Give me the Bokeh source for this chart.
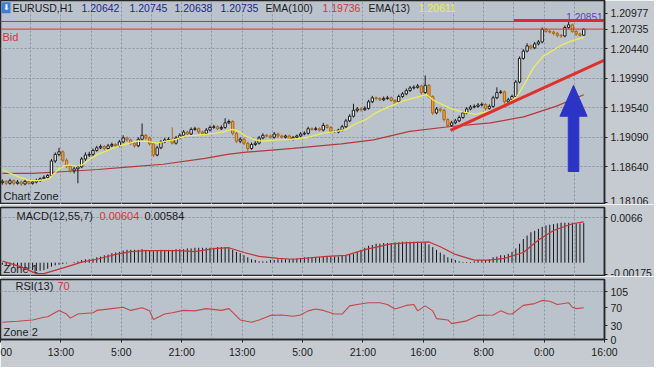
from bokeh.plotting import figure
from bokeh.layouts import column
from bokeh.models import Range1d, FixedTicker, ColumnDataSource, Label, Span
from bokeh.embed import file_html
from bokeh.resources import INLINE

# ---------------- data ----------------
bars = list(range(155))
opens = [1.1840, 1.1842, 1.1839, 1.1843, 1.1839, 1.1841, 1.1838, 1.1842, 1.1839, 1.1841,
         1.1843, 1.1846, 1.1848, 1.1851, 1.1873, 1.1883, 1.1887, 1.1874, 1.1865, 1.1858,
         1.1861, 1.1864, 1.1876, 1.1882, 1.1883, 1.1889, 1.1893, 1.1895, 1.1892, 1.1896,
         1.1898, 1.1896, 1.1902, 1.1908, 1.1905, 1.1900, 1.1896, 1.1906, 1.1912, 1.1908,
         1.1899, 1.1882, 1.1893, 1.1902, 1.1905, 1.1906, 1.1900, 1.1908, 1.1912, 1.1917,
         1.1914, 1.1921, 1.1922, 1.1917, 1.1915, 1.1920, 1.1924, 1.1925, 1.1922, 1.1924,
         1.1931, 1.1933, 1.1915, 1.1903, 1.1906, 1.1900, 1.1892, 1.1898, 1.1900, 1.1908,
         1.1912, 1.1911, 1.1909, 1.1914, 1.1911, 1.1909, 1.1911, 1.1906, 1.1909, 1.1911,
         1.1914, 1.1915, 1.1922, 1.1921, 1.1922, 1.1920, 1.1927, 1.1924, 1.1918, 1.1917,
         1.1920, 1.1925, 1.1934, 1.1941, 1.1950, 1.1952, 1.1951, 1.1953, 1.1963, 1.1969,
         1.1968, 1.1966, 1.1968, 1.1969, 1.1965, 1.1963, 1.1971, 1.1975, 1.1980, 1.1984,
         1.1985, 1.1987, 1.1977, 1.1988, 1.1971, 1.1946, 1.1952, 1.1950, 1.1936, 1.1927,
         1.1931, 1.1934, 1.1939, 1.1946, 1.1952, 1.1955, 1.1956, 1.1958, 1.1959, 1.1953,
         1.1956, 1.1969, 1.1977, 1.1978, 1.1963, 1.1966, 1.1971, 1.1993, 1.2029, 1.2040,
         1.2048, 1.2045, 1.2051, 1.2054, 1.2073, 1.2070, 1.2069, 1.2067, 1.2064, 1.2063,
         1.2076, 1.2080, 1.2070, 1.2066, 1.20642]
highs = [1.1845, 1.1844, 1.1846, 1.1845, 1.1844, 1.1843, 1.1845, 1.1844, 1.1843, 1.1846,
         1.1848, 1.1851, 1.1853, 1.1876, 1.1886, 1.1893, 1.1889, 1.1877, 1.1867, 1.1864,
         1.1867, 1.1879, 1.1886, 1.1887, 1.1892, 1.1896, 1.1898, 1.1897, 1.1899, 1.1901,
         1.1900, 1.1905, 1.1912, 1.1910, 1.1907, 1.1902, 1.1909, 1.1930, 1.1914, 1.1910,
         1.1901, 1.1896, 1.1905, 1.1908, 1.1909, 1.1924, 1.1911, 1.1915, 1.1920, 1.1919,
         1.1924, 1.1925, 1.1924, 1.1919, 1.1923, 1.1927, 1.1928, 1.1927, 1.1927, 1.1938,
         1.1936, 1.1935, 1.1917, 1.1909, 1.1908, 1.1902, 1.1901, 1.1903, 1.1911, 1.1915,
         1.1914, 1.1913, 1.1917, 1.1916, 1.1913, 1.1913, 1.1913, 1.1911, 1.1913, 1.1917,
         1.1918, 1.1925, 1.1924, 1.1925, 1.1924, 1.1931, 1.1929, 1.1926, 1.1920, 1.1922,
         1.1928, 1.1937, 1.1944, 1.1960, 1.1955, 1.1954, 1.1956, 1.1966, 1.1972, 1.1971,
         1.1970, 1.1971, 1.1972, 1.1971, 1.1967, 1.1974, 1.1978, 1.1983, 1.1987, 1.1988,
         1.1990, 1.1989, 1.2003, 1.1990, 1.1973, 1.1955, 1.1954, 1.1952, 1.1938, 1.1934,
         1.1937, 1.1942, 1.1949, 1.1955, 1.1958, 1.1959, 1.1961, 1.1962, 1.1961, 1.1959,
         1.1972, 1.1985, 1.1981, 1.1980, 1.1969, 1.1974, 1.1996, 1.2032, 1.2043, 1.2052,
         1.2050, 1.2054, 1.2057, 1.2076, 1.2075, 1.2073, 1.2071, 1.2069, 1.2066, 1.2079,
         1.20851, 1.2082, 1.2072, 1.2068, 1.20745]
lows = [1.1837, 1.1836, 1.1837, 1.1836, 1.1837, 1.1835, 1.1836, 1.1837, 1.1837, 1.1839,
        1.1841, 1.1844, 1.1846, 1.1849, 1.1870, 1.1880, 1.1871, 1.1862, 1.1855, 1.1854,
        1.1839, 1.1862, 1.1873, 1.1879, 1.1880, 1.1887, 1.1891, 1.1889, 1.1890, 1.1894,
        1.1893, 1.1894, 1.1900, 1.1902, 1.1897, 1.1893, 1.1894, 1.1904, 1.1905, 1.1896,
        1.1879, 1.1880, 1.1891, 1.1900, 1.1903, 1.1898, 1.1898, 1.1906, 1.1910, 1.1911,
        1.1912, 1.1919, 1.1914, 1.1912, 1.1913, 1.1918, 1.1922, 1.1920, 1.1920, 1.1922,
        1.1929, 1.1912, 1.1900, 1.1900, 1.1897, 1.1887, 1.1890, 1.1896, 1.1898, 1.1906,
        1.1909, 1.1907, 1.1907, 1.1909, 1.1907, 1.1907, 1.1904, 1.1904, 1.1907, 1.1909,
        1.1912, 1.1913, 1.1919, 1.1919, 1.1918, 1.1918, 1.1922, 1.1915, 1.1915, 1.1915,
        1.1918, 1.1923, 1.1932, 1.1939, 1.1947, 1.1948, 1.1949, 1.1951, 1.1961, 1.1965,
        1.1964, 1.1964, 1.1966, 1.1963, 1.1960, 1.1961, 1.1969, 1.1973, 1.1978, 1.1982,
        1.1983, 1.1974, 1.1975, 1.1968, 1.1943, 1.1944, 1.1947, 1.1933, 1.1924, 1.1925,
        1.1929, 1.1932, 1.1937, 1.1944, 1.1950, 1.1953, 1.1954, 1.1956, 1.1950, 1.1951,
        1.1954, 1.1967, 1.1975, 1.1960, 1.1961, 1.1964, 1.1969, 1.1991, 1.2027, 1.2038,
        1.2042, 1.2043, 1.2049, 1.2052, 1.2068, 1.2067, 1.2064, 1.2061, 1.2060, 1.2061,
        1.2074, 1.2068, 1.2063, 1.2062, 1.20638]
closes = [1.1842, 1.1839, 1.1843, 1.1839, 1.1841, 1.1838, 1.1842, 1.1839, 1.1841, 1.1843,
          1.1846, 1.1848, 1.1851, 1.1873, 1.1883, 1.1887, 1.1874, 1.1865, 1.1858, 1.1861,
          1.1864, 1.1876, 1.1882, 1.1883, 1.1889, 1.1893, 1.1895, 1.1892, 1.1896, 1.1898,
          1.1896, 1.1902, 1.1908, 1.1905, 1.1900, 1.1896, 1.1906, 1.1912, 1.1908, 1.1899,
          1.1882, 1.1893, 1.1902, 1.1905, 1.1906, 1.1900, 1.1908, 1.1912, 1.1917, 1.1914,
          1.1921, 1.1922, 1.1917, 1.1915, 1.1920, 1.1924, 1.1925, 1.1922, 1.1924, 1.1931,
          1.1933, 1.1915, 1.1903, 1.1906, 1.1900, 1.1892, 1.1898, 1.1900, 1.1908, 1.1912,
          1.1911, 1.1909, 1.1914, 1.1911, 1.1909, 1.1911, 1.1906, 1.1909, 1.1911, 1.1914,
          1.1915, 1.1922, 1.1921, 1.1922, 1.1920, 1.1927, 1.1924, 1.1918, 1.1917, 1.1920,
          1.1925, 1.1934, 1.1941, 1.1950, 1.1952, 1.1951, 1.1953, 1.1963, 1.1969, 1.1968,
          1.1966, 1.1968, 1.1969, 1.1965, 1.1963, 1.1971, 1.1975, 1.1980, 1.1984, 1.1985,
          1.1987, 1.1977, 1.1988, 1.1971, 1.1946, 1.1952, 1.1950, 1.1936, 1.1927, 1.1931,
          1.1934, 1.1939, 1.1946, 1.1952, 1.1955, 1.1956, 1.1958, 1.1959, 1.1953, 1.1956,
          1.1969, 1.1977, 1.1978, 1.1963, 1.1966, 1.1971, 1.1993, 1.2029, 1.2040, 1.2048,
          1.2045, 1.2051, 1.2054, 1.2073, 1.2070, 1.2069, 1.2067, 1.2064, 1.2063, 1.2076,
          1.2080, 1.2070, 1.2066, 1.20642, 1.20735]

ema13_x = [0, 2.1, 4.7, 7.2, 9.8, 12.4, 13.7, 15, 16.3, 17.6, 19.6, 21.4, 23.5, 25.3, 27.9,
           30.5, 33, 35.6, 38.2, 40.8, 43.4, 45.9, 48.5, 51.1, 56.3, 58.9, 60.9, 62.7, 64, 66.6,
           68.7, 73, 76.9, 80.8, 84.7, 88.5, 91.1, 93.7, 96.3, 98.9, 101.4, 104, 106.6, 109.2, 112.3,
           114.3, 116.4, 118.7, 120.8, 125.2, 129.3, 133.7, 136.3, 138.1, 140.7, 143.2, 145.8, 148.4, 151, 154]
ema13_y = [1.1860, 1.1854, 1.1848, 1.1843, 1.1843, 1.1846, 1.1854, 1.1861, 1.1865, 1.1867,
           1.1865, 1.1868, 1.1877, 1.1883, 1.1889, 1.1895, 1.1899, 1.1903, 1.1903, 1.1900,
           1.1903, 1.1906, 1.1911, 1.1912, 1.1915, 1.1918, 1.1921, 1.1918, 1.1912, 1.1906,
           1.1903, 1.1905, 1.1906, 1.1909, 1.1915, 1.1918, 1.1921, 1.1930, 1.1936, 1.1946,
           1.1953, 1.1959, 1.1965, 1.1969, 1.1974, 1.1965, 1.1959, 1.1953, 1.1949, 1.1944,
           1.1949, 1.1959, 1.1971, 1.1988, 1.2015, 1.2032, 1.2041, 1.2050, 1.2056, 1.20611]
ema100_x = [0, 8, 16.8, 25.3, 33.8, 42.6, 53.7, 59.6, 64, 76.9, 89.8, 98.3, 107.9, 118.2,
            129.3, 138.1, 146.6, 154]
ema100_y = [1.1854, 1.1854, 1.1857, 1.1860, 1.1864, 1.1868, 1.1877, 1.1883, 1.1886, 1.1892,
            1.1899, 1.1905, 1.1918, 1.1925, 1.1931, 1.1940, 1.1956, 1.19736]

macd_hist = [-0.0003, -0.0004, -0.0005, -0.0006, -0.0007,
             -0.0008, -0.0009, -0.0010, -0.0011,
             -0.0012, -0.0012, -0.0011, -0.0009, -0.0006, -0.0004,
             -0.0003, -0.0002, -0.0001, 0.0000, 0.0001,
             0.0002, 0.0004, 0.0005, 0.0005, 0.0006,
             0.0008, 0.0009, 0.0011, 0.0012, 0.0014, 0.0015,
             0.0016, 0.0018, 0.0019, 0.0019, 0.0019, 0.0019, 0.0020, 0.0019, 0.0018, 0.0017,
             0.0018, 0.0019, 0.0019, 0.0019, 0.0019, 0.0020, 0.0020,
             0.0020, 0.0021, 0.0021, 0.0022, 0.0022, 0.0022, 0.0022, 0.0022, 0.0022, 0.0023,
             0.0023, 0.0023, 0.0022,
             0.0019, 0.0016, 0.0014, 0.0011, 0.0008, 0.0005,
             0.0004, 0.0002, 0.0002, 0.0002, 0.0004,
             0.0004, 0.0005, 0.0005, 0.0005, 0.0005, 0.0006, 0.0006, 0.0007, 0.0008, 0.0008,
             0.0008, 0.0008, 0.0008, 0.0009,
             0.0009, 0.0009, 0.0009, 0.0009, 0.0010, 0.0011, 0.0012, 0.0013,
             0.0016, 0.0019, 0.0022, 0.0025, 0.0026,
             0.0028, 0.0028, 0.0029, 0.0029, 0.0029,
             0.0030, 0.0030, 0.0031, 0.0031, 0.0031, 0.0031, 0.0031, 0.0030, 0.0030,
             0.0027, 0.0023, 0.0019, 0.0015, 0.0012,
             0.0008, 0.0006, 0.0004, 0.0002,
             0.0001, 0.0001, 0.0001, 0.0002,
             0.0004, 0.0004, 0.0004, 0.0005,
             0.0008, 0.0009, 0.0011, 0.0011,
             0.0013, 0.0016, 0.0021, 0.0028,
             0.0035, 0.0040, 0.0045, 0.0047,
             0.0050, 0.0053, 0.0055, 0.0056,
             0.0057, 0.0058, 0.0059, 0.0059, 0.0059,
             0.0059, 0.0058, 0.0058, 0.00584]
signal_x = [0, 5, 9, 11, 17, 21, 25, 30, 34, 38, 47, 51, 56, 60, 64, 68, 73, 77, 86, 91,
            96, 103, 107, 113, 116, 120, 125, 129, 133, 138, 142, 146, 151, 154]
signal_y = [0.00023, -0.00062, -0.00161, -0.00161, -0.00062, 0.00008, 0.00051, 0.00122,
            0.00164, 0.00178, 0.00178, 0.00164, 0.00207, 0.00221, 0.00150, 0.00093, 0.00065,
            0.00051, 0.00093, 0.00108, 0.00192, 0.00277, 0.00292, 0.00306, 0.00235, 0.00122,
            0.00037, 0.00037, 0.00065, 0.00150, 0.00334, 0.00476, 0.00575, 0.00604]

rsi_x = [0, 4, 8, 11, 12, 15, 17, 18, 20, 24, 25, 29, 32, 34, 37, 39, 40, 43, 45, 48,
         51, 54, 58, 60, 63, 66, 68, 71, 74, 77, 79, 81, 83, 85, 88, 90, 92, 94, 97, 100,
         102, 104, 107, 109, 110, 112, 114, 115, 118, 119, 123, 126, 130, 132, 134, 135, 138, 141, 143, 145,
         147, 150, 151, 152, 154]
rsi_y = [38, 40, 43, 49, 50, 64, 56, 47, 56, 59, 64, 68, 71, 64, 70, 63, 44, 56, 59, 64,
         63, 68, 64, 68, 43, 38, 43, 53, 54, 51, 54, 63, 67, 64, 56, 56, 74, 77, 81, 81,
         77, 67, 75, 77, 63, 74, 63, 46, 43, 35, 41, 53, 54, 63, 56, 56, 75, 79, 86, 84,
         77, 81, 71, 68, 70]

price_ticks = [1.18106, 1.18640, 1.19090, 1.19540, 1.19990, 1.20440, 1.20977]
macd_ticks = [-0.00175, 0.0066]
macd_tick_labels = ["-0.00175", "0.0066"]
rsi_ticks = [0, 30, 70, 105]
time_ticks = [-0.5, 15.5, 31.5, 47.5, 63.5, 79.5, 95.5, 111.5, 127.5, 143.5, 159.5]
time_labels = ["00", "13:00", "5:00", "21:00", "13:00", "5:00", "21:00", "16:00", "8:00", "0:00", "16:00"]
grid_ticks = [7.5, 15.5, 23.5, 31.5, 39.5, 47.5, 55.5, 63.5, 71.5, 79.5, 87.5, 95.5, 103.5,
              111.5, 119.5, 127.5, 135.5, 143.5, 151.5]

bid_price = 1.20735
day_high = 1.20851
hline_x = [135.5, 160.0]
hline_y = [1.20865, 1.20865]
trend_x = [118.7, 159.5]
trend_y = [1.19195, 1.20263]
arrow_x = [149.9, 152.7, 152.7, 154.9, 151.3, 147.7, 149.9]
arrow_y = [1.1857, 1.1857, 1.1941, 1.1941, 1.1988, 1.1941, 1.1941]

# ---------------- styling ----------------
W = 654
FR = 605
RB = W - FR
BG = "#bac2cc"
BORDER = "#c6cbd1"
DARK = "#262626"
FONT = "Liberation Sans"
GRIDC = "#8b95a3"

xr = Range1d(-0.5, 159.5)


def make_fig(height, yr, top, bottom, xaxis):
    p = figure(width=W, height=height, x_range=xr, y_range=yr, title=None,
               toolbar_location=None, output_backend="svg",
               y_axis_location="right", x_axis_location=("below" if xaxis else None),
               min_border_left=0, min_border_right=RB, min_border_top=top,
               min_border_bottom=bottom)
    p.background_fill_color = BG
    p.border_fill_color = BORDER
    p.outline_line_color = DARK
    p.outline_line_width = 1.5
    ax = p.yaxis[0]
    ax.axis_line_color = DARK
    ax.axis_line_width = 1.5
    ax.major_tick_line_color = DARK
    ax.major_tick_out = 3
    ax.major_tick_in = 0
    ax.minor_tick_line_color = None
    ax.major_label_text_font = FONT
    ax.major_label_text_font_size = "10.5px"
    ax.major_label_text_color = "#1c1c1c"
    ax.major_label_standoff = 3
    p.xgrid.ticker = FixedTicker(ticks=grid_ticks)
    p.xgrid.grid_line_color = GRIDC
    p.xgrid.grid_line_dash = "2 2"
    p.ygrid.grid_line_color = GRIDC
    p.ygrid.grid_line_dash = "2 2"
    return p


def lab(p, x, y, text, color="#1c1c1c", size="11px", align="left", **kw):
    l = Label(x=x, y=y, x_units="screen", y_units="screen", text=text,
              text_color=color, text_font=FONT, text_font_size=size,
              text_align=align, text_baseline="middle", **kw)
    p.add_layout(l)
    return l


# ---------------- main price panel ----------------
H1 = 204
p1 = make_fig(H1, Range1d(1.18068, 1.2117), 0, 0, False)
axis_ticks = sorted(price_ticks + [bid_price])
p1.yaxis.ticker = FixedTicker(ticks=axis_ticks)
p1.yaxis.major_label_overrides = {t: f"{t:.5f}" for t in axis_ticks}
p1.ygrid.ticker = FixedTicker(ticks=price_ticks[1:-1])

up = [c >= o for o, c in zip(opens, closes)]
src = ColumnDataSource(dict(
    x=bars, o=opens, h=highs, l=lows, c=closes,
    top=[max(o, c) for o, c in zip(opens, closes)],
    bot=[min(o, c) for o, c in zip(opens, closes)],
    fill=["#f6f6f6" if u else "#e9a23b" for u in up],
    line=["#1c1c1c" if u else "#a8691c" for u in up],
))

p1.add_layout(Span(location=day_high, dimension="width", line_color="#5b4fc8", line_width=1))
p1.add_layout(Span(location=bid_price, dimension="width", line_color="#d03a3a", line_width=1))

lab(p1, 602, 188, f"{day_high:.5f}", color="#6040c0", size="10px", align="right", level="underlay")

p1.line(ema100_x, ema100_y, line_color="#b43a3a", line_width=1.2)
p1.segment(x0="x", y0="l", x1="x", y1="h", line_color="line", line_width=1, source=src)
p1.vbar(x="x", width=0.62, top="top", bottom="bot", fill_color="fill", line_color="line",
        line_width=1, source=src)
p1.line(ema13_x, ema13_y, line_color="#eded55", line_width=1.3)

p1.line(hline_x, hline_y, line_color="#e02a2a", line_width=3)
p1.line(trend_x, trend_y, line_color="#e0302c", line_width=3)
p1.patch(arrow_x, arrow_y, fill_color="#2c34c6", line_color="#2c34c6")

# header
hy = 196.8
lab(p1, 1, hy, "\u2B07", color="white", size="8px", background_fill_color="#3d7fd6", padding=1)
lab(p1, 12, hy, "EURUSD,H1", size="10.5px")
VAL = "#22288c"
lab(p1, 81, hy, f"{opens[-1]:.5f}", color=VAL, size="10.5px")
lab(p1, 129, hy, f"{highs[-1]:.5f}", color=VAL, size="10.5px")
lab(p1, 174, hy, f"{lows[-1]:.5f}", color=VAL, size="10.5px")
lab(p1, 220, hy, f"{closes[-1]:.5f}", color=VAL, size="10.5px")
lab(p1, 265, hy, "EMA(100)", size="10.5px")
lab(p1, 322, hy, f"{ema100_y[-1]:.5f}", color="#cc3a3a", size="10.5px")
lab(p1, 368, hy, "EMA(13)", size="10.5px")
lab(p1, 418, hy, f"{ema13_y[-1]:.5f}", color="#eeee44", size="10.5px")
lab(p1, 2, 168, "Bid", color="#cc3a3a", size="11px")
lab(p1, 3, 9, "Chart Zone", size="11px")

# ---------------- MACD panel ----------------
H2F = 69
p2 = make_fig(H2F + 3, Range1d(-0.00204, 0.00815), 3, 0, False)
p2.yaxis.ticker = FixedTicker(ticks=macd_ticks)
p2.yaxis.major_label_overrides = dict(zip(macd_ticks, macd_tick_labels))
p2.ygrid.ticker = FixedTicker(ticks=[macd_ticks[1]])
lab(p2, 3, 8, "Zone 1", level="underlay")
p2.segment(x0=bars, y0=[0] * len(bars), x1=bars, y1=macd_hist, line_color="#161616", line_width=1)
p2.line(signal_x, signal_y, line_color="#c43434", line_width=1.2)
lab(p2, 16, 60.5, "MACD(12,55,7)")
lab(p2, 99, 60.5, f"{signal_y[-1]:.5f}", color="#d03a3a")
lab(p2, 144, 60.5, f"{macd_hist[-1]:.5f}")

# ---------------- RSI panel ----------------
H3F = 60
p3 = make_fig(H3F + 3 + 28, Range1d(0, 132), 3, 28, True)
p3.yaxis.ticker = FixedTicker(ticks=rsi_ticks)
p3.ygrid.ticker = FixedTicker(ticks=[rsi_ticks[-1]])
xa = p3.xaxis[0]
xa.ticker = FixedTicker(ticks=time_ticks)
xa.major_label_overrides = dict(zip(time_ticks, time_labels))
xa.axis_line_color = DARK
xa.axis_line_width = 1.5
xa.major_tick_line_color = DARK
xa.major_tick_out = 3
xa.major_tick_in = 0
xa.minor_tick_line_color = None
xa.major_label_text_font = FONT
xa.major_label_text_font_size = "10.5px"
xa.major_label_text_color = "#1c1c1c"
xa.major_label_standoff = 3
p3.line(rsi_x, rsi_y, line_color="#c44848", line_width=1.1)
lab(p3, 15, 53.5, "RSI(13)")
lab(p3, 57, 53.5, f"{rsi_y[-1]}", color="#d03a3a")
lab(p3, 3, 7.5, "Zone 2")

layout = column(p1, p2, p3, spacing=0)
open("out.html", "w").write(file_html(layout, INLINE))
